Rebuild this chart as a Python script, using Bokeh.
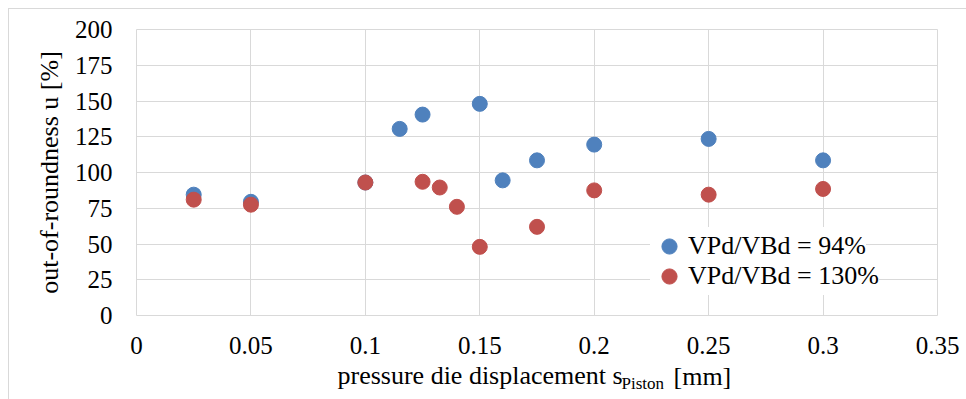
from bokeh.plotting import figure
from bokeh.models import Range1d, FixedTicker, Legend, LegendItem, Title
from bokeh.embed import file_html
from bokeh.resources import INLINE

# ---- data ----
x_ticks = [0, 0.05, 0.1, 0.15, 0.2, 0.25, 0.3, 0.35]
x_tick_labels = ["0", "0.05", "0.1", "0.15", "0.2", "0.25", "0.3", "0.35"]
y_ticks = [0, 25, 50, 75, 100, 125, 150, 175, 200]

series_names = ["VPd/VBd = 94%", "VPd/VBd = 130%"]

x_94 = [0.025, 0.05, 0.1, 0.115, 0.125, 0.15, 0.16, 0.175, 0.2, 0.25, 0.3]
u_94 = [84.5, 79.5, 93, 130.5, 140.5, 148, 94.5, 108.5, 119.5, 123.5, 108.5]

x_130 = [0.025, 0.05, 0.1, 0.125, 0.1325, 0.14, 0.15, 0.175, 0.2, 0.25, 0.3]
u_130 = [81, 77.5, 93, 93.5, 89.5, 76, 48, 62, 87.5, 84.5, 88.5]

x_title_main = "pressure die displacement s"
x_title_sub = "Piston"
x_title_tail = "[mm]"
y_title = "out-of-roundness u [%]"

# ---- styles ----
FONT = "Liberation Serif, Times New Roman, Tinos, DejaVu Serif, serif"
BLUE = "#4f81bd"
RED = "#c0504d"
GRID = "#d9d9d9"

p = figure(width=966, height=399, output_backend="svg", toolbar_location=None,
           x_range=Range1d(0, 0.35), y_range=Range1d(0, 200),
           min_border_left=136, min_border_right=29,
           min_border_top=29, min_border_bottom=84)

p.styles = {
    "background": ("linear-gradient(#d9d9d9,#d9d9d9) 8px 8px / 1px 100% no-repeat, "
                   "linear-gradient(#d9d9d9,#d9d9d9) 8px 8px / 100% 1px no-repeat, white"),
}
p.border_fill_color = None
p.background_fill_color = "white"
p.outline_line_color = GRID
p.outline_line_width = 1

r94 = p.scatter(x_94, u_94, size=15, marker="circle", fill_color=BLUE, line_color=BLUE)
r130 = p.scatter(x_130, u_130, size=15, marker="circle", fill_color=RED, line_color=RED)

for ax in (p.xaxis[0], p.yaxis[0]):
    ax.axis_line_color = None
    ax.major_tick_line_color = None
    ax.minor_tick_line_color = None
    ax.major_tick_out = 0
    ax.major_tick_in = 0
    ax.minor_tick_out = 0
    ax.major_label_text_font = FONT
    ax.major_label_text_font_size = "25px"
    ax.major_label_text_color = "black"

p.xaxis[0].ticker = FixedTicker(ticks=x_ticks)
p.xaxis[0].major_label_overrides = {t: l for t, l in zip(x_ticks, x_tick_labels)}
p.xaxis[0].major_label_standoff = 21

p.yaxis[0].ticker = FixedTicker(ticks=y_ticks)
p.yaxis[0].major_label_standoff = 24
p.yaxis[0].axis_label = y_title
p.yaxis[0].axis_label_text_font = FONT
p.yaxis[0].axis_label_text_font_size = "26px"
p.yaxis[0].axis_label_text_font_style = "normal"
p.yaxis[0].axis_label_text_color = "black"
p.yaxis[0].axis_label_standoff = 8

p.xgrid[0].ticker = FixedTicker(ticks=x_ticks)
p.ygrid[0].ticker = FixedTicker(ticks=y_ticks)
for g in (p.xgrid[0], p.ygrid[0]):
    g.grid_line_color = GRID
    g.grid_line_width = 1

# x-axis title built from pieces (subscript) as titles in the panel below
t_common = dict(align="left", vertical_align="top", text_font=FONT,
                text_font_style="normal", text_color="black")
t_main = Title(text=x_title_main, text_font_size="26px", offset=201, standoff=8, **t_common)
t_sub = Title(text=x_title_sub, text_font_size="17px", offset=485, standoff=-44, **t_common)
t_tail = Title(text=x_title_tail, text_font_size="26px", offset=537, standoff=-68, **t_common)
p.add_layout(t_main, "below")
p.add_layout(t_sub, "below")
p.add_layout(t_tail, "below")

legend_style = dict(padding=0, margin=0, spacing=0,
                    glyph_width=38, glyph_height=38, label_standoff=0,
                    label_text_font=FONT, label_text_font_size="26px",
                    label_text_color="black",
                    background_fill_color="white", background_fill_alpha=1.0,
                    border_line_color=None)
leg_red = Legend(items=[LegendItem(label=series_names[1], renderers=[r130])],
                 location=(514, 20), **legend_style)
leg_blue = Legend(items=[LegendItem(label=series_names[0], renderers=[r94])],
                  location=(514, 50), **legend_style)
p.add_layout(leg_red)
p.add_layout(leg_blue)

open("out.html", "w").write(file_html(p, INLINE))
